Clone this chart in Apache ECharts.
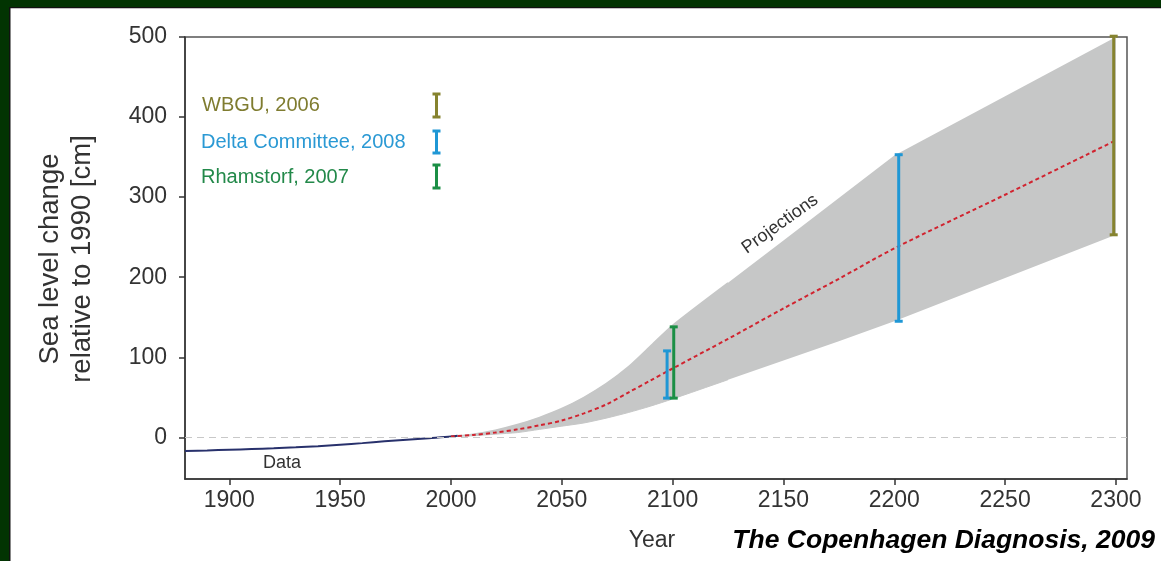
<!DOCTYPE html>
<html>
<head>
<meta charset="utf-8">
<title>Sea level projections</title>
<script src="https://cdn.jsdelivr.net/npm/echarts@6/dist/echarts.min.js"></script>
<style>
  html, body { margin: 0; padding: 0; background: #fff; }
  #chart { width: 1161px; height: 561px; }
</style>
</head>
<body>
<div id="chart"></div>
<script>
// observed sea level (cm, relative to 1990)
const dataYears = [1880, 1890, 1900, 1910, 1920, 1930, 1940, 1950, 1960, 1970, 1980, 1990, 2000, 2003];
const dataValues = [-17, -16.3, -15.5, -14.6, -13.6, -12.4, -11, -9.2, -7.2, -5, -3, -1, 1, 2];

// projections: median and range
const projYears = [2000, 2010, 2020, 2030, 2040, 2050, 2060, 2070, 2080, 2090, 2100, 2125, 2150, 2175, 2200, 2250, 2300];
const projMedian = [1, 3, 6, 10, 15, 21, 30, 41, 56, 71, 86, 123, 161, 198, 236, 303, 371];
const projLower = [1, 2, 4, 6, 10, 14, 18, 24, 31, 39, 48, 72, 96, 120, 145, 199, 253];
const projUpper = [1, 4, 9, 16, 25, 36, 50, 67, 88, 114, 140, 193, 246, 299, 352, 426, 500];

// error bars [year, low, high]
const wbgu = [[2299, 253, 501]];
const delta = [[2097.5, 49, 108], [2202, 145, 353]];
const rahmstorf = [[2100.5, 49, 138]];

const xTicks = [1900, 1950, 2000, 2050, 2100, 2150, 2200, 2250, 2300];
const yTicks = [0, 100, 200, 300, 400, 500];

const FONT = '"Liberation Sans", Arial, Helvetica, sans-serif';
const COL_WBGU = '#86832f';
const COL_DELTA = '#1f97d5';
const COL_RAHM = '#1b8f45';

const chart = echarts.init(document.getElementById('chart'));

function errorBar(color) {
  return function (params, api) {
    const lo = api.coord([api.value(0), api.value(1)]);
    const hi = api.coord([api.value(0), api.value(2)]);
    const w = 4;
    const style = { stroke: color, lineWidth: 3 };
    return {
      type: 'group',
      children: [
        { type: 'line', shape: { x1: lo[0], y1: lo[1], x2: hi[0], y2: hi[1] }, style: style },
        { type: 'line', shape: { x1: lo[0] - w, y1: lo[1], x2: lo[0] + w, y2: lo[1] }, style: style },
        { type: 'line', shape: { x1: hi[0] - w, y1: hi[1], x2: hi[0] + w, y2: hi[1] }, style: style }
      ]
    };
  };
}

// legend icon: small I-bar
function legendBar(x, y1, y2, color) {
  const style = { stroke: color, lineWidth: 3 };
  return [
    { type: 'line', shape: { x1: x, y1: y1, x2: x, y2: y2 }, style: style, z: 100 },
    { type: 'line', shape: { x1: x - 4, y1: y1, x2: x + 4, y2: y1 }, style: style, z: 100 },
    { type: 'line', shape: { x1: x - 4, y1: y2, x2: x + 4, y2: y2 }, style: style, z: 100 }
  ];
}

const option = {
  animation: false,
  backgroundColor: '#ffffff',
  grid: {
    left: 185, right: 34, top: 37, bottom: 82,
    show: true, borderColor: '#555', borderWidth: 1.5, backgroundColor: 'transparent'
  },
  xAxis: {
    type: 'value',
    min: 1880,
    max: 2305,
    axisLine: { show: true, onZero: false, lineStyle: { color: '#333', width: 1.5 } },
    axisTick: { show: true, length: 6, customValues: xTicks, lineStyle: { color: '#333', width: 1.5 } },
    axisLabel: { customValues: xTicks, formatter: v => String(v), color: '#333', fontSize: 23, fontFamily: FONT, margin: 10 },
    splitLine: { show: false }
  },
  yAxis: {
    type: 'value',
    min: -52,
    max: 500,
    axisLine: { show: true, onZero: false, lineStyle: { color: '#333', width: 1.5 } },
    axisTick: { show: true, length: 6, customValues: yTicks, lineStyle: { color: '#333', width: 1.5 } },
    axisLabel: { customValues: yTicks, formatter: v => String(v), color: '#333', fontSize: 23, fontFamily: FONT, margin: 18 },
    splitLine: { show: false }
  },
  series: [
    {
      name: 'range',
      type: 'custom',
      z: 1,
      silent: true,
      data: projYears.map((y, i) => [y, projLower[i], projUpper[i]]),
      renderItem: function (params, api) {
        if (params.dataIndex !== 0) return null;
        const top = projYears.map((y, i) => api.coord([y, projUpper[i]]));
        const bot = projYears.map((y, i) => api.coord([y, projLower[i]]));
        // soften the curved part of the upper edge (up to 2100)
        const curved = top.filter((p, i) => projYears[i] <= 2125);
        return {
          type: 'group',
          children: [
            { type: 'polygon', shape: { points: top.concat(bot.slice().reverse()) }, style: { fill: '#c6c7c7' } },
            { type: 'polyline', shape: { points: curved, smooth: 0.25 }, style: { stroke: '#c6c7c7', lineWidth: 1.5, fill: null } },
            { type: 'polyline', shape: { points: bot.filter((p, i) => projYears[i] <= 2125), smooth: 0.25 }, style: { stroke: '#c6c7c7', lineWidth: 1, fill: null } }
          ]
        };
      }
    },
    {
      name: 'Data',
      type: 'line',
      z: 3,
      symbol: 'none',
      smooth: 0.3,
      data: dataYears.map((y, i) => [y, dataValues[i]]),
      lineStyle: { color: '#28316c', width: 2 },
      markLine: {
        silent: true,
        symbol: 'none',
        label: { show: false },
        lineStyle: { color: '#c8c8c8', type: [7, 5], width: 1 },
        data: [{ yAxis: 0 }]
      }
    },
    {
      name: 'Projection',
      type: 'line',
      z: 4,
      symbol: 'none',
      smooth: 0.3,
      data: projYears.map((y, i) => [y, projMedian[i]]),
      lineStyle: { color: '#d1232f', width: 2, type: [4, 3] }
    },
    { name: 'WBGU, 2006', type: 'custom', z: 5, data: wbgu, renderItem: errorBar(COL_WBGU) },
    { name: 'Delta Committee, 2008', type: 'custom', z: 5, data: delta, renderItem: errorBar(COL_DELTA) },
    { name: 'Rhamstorf, 2007', type: 'custom', z: 6, data: rahmstorf, renderItem: errorBar(COL_RAHM) }
  ],
  graphic: [
    // frame
    { type: 'rect', shape: { x: 0, y: 0, width: 9, height: 561 }, style: { fill: '#023402' }, z: 200 },
    { type: 'rect', shape: { x: 0, y: 0, width: 1161, height: 7 }, style: { fill: '#023402' }, z: 200 },
    { type: 'rect', shape: { x: 9, y: 7, width: 1.5, height: 554 }, style: { fill: '#111' }, z: 200 },
    { type: 'rect', shape: { x: 9, y: 7, width: 1152, height: 1.2 }, style: { fill: '#111' }, z: 200 },
    // y axis title
    {
      type: 'text', x: 66, y: 259, rotation: Math.PI / 2, z: 100,
      style: {
        text: 'Sea level change\nrelative to 1990 [cm]',
        fill: '#333', font: '27.5px ' + FONT, lineHeight: 32,
        textAlign: 'center', textVerticalAlign: 'middle'
      }
    },
    {
      type: 'text', x: 652, y: 541, z: 100,
      style: { text: 'Year', fill: '#333', font: '23px ' + FONT, textAlign: 'center', textVerticalAlign: 'middle' }
    },
    {
      type: 'text', x: 1155, y: 541, z: 100,
      style: { text: 'The Copenhagen Diagnosis, 2009', fill: '#000', font: 'italic bold 26.5px ' + FONT, textAlign: 'right', textVerticalAlign: 'middle' }
    },
    // legend
    { type: 'text', x: 202, y: 105, z: 100, style: { text: 'WBGU, 2006', fill: '#7f7c30', font: '20px ' + FONT, textVerticalAlign: 'middle' } },
    { type: 'text', x: 201, y: 142, z: 100, style: { text: 'Delta Committee, 2008', fill: '#2a99d4', font: '20px ' + FONT, textVerticalAlign: 'middle' } },
    { type: 'text', x: 201, y: 177, z: 100, style: { text: 'Rhamstorf, 2007', fill: '#23894a', font: '20px ' + FONT, textVerticalAlign: 'middle' } },
    ...legendBar(436.5, 94, 117, COL_WBGU),
    ...legendBar(436.5, 131, 153, COL_DELTA),
    ...legendBar(436.5, 165, 188, COL_RAHM),
    // annotations
    { type: 'text', x: 282, y: 463, z: 100, style: { text: 'Data', fill: '#333', font: '18px ' + FONT, textAlign: 'center', textVerticalAlign: 'middle' } },
    {
      type: 'text', x: 780, y: 224, rotation: 0.62, z: 100,
      style: { text: 'Projections', fill: '#333', font: '18px ' + FONT, textAlign: 'center', textVerticalAlign: 'middle' }
    }
  ]
};

chart.setOption(option);
</script>
</body>
</html>
